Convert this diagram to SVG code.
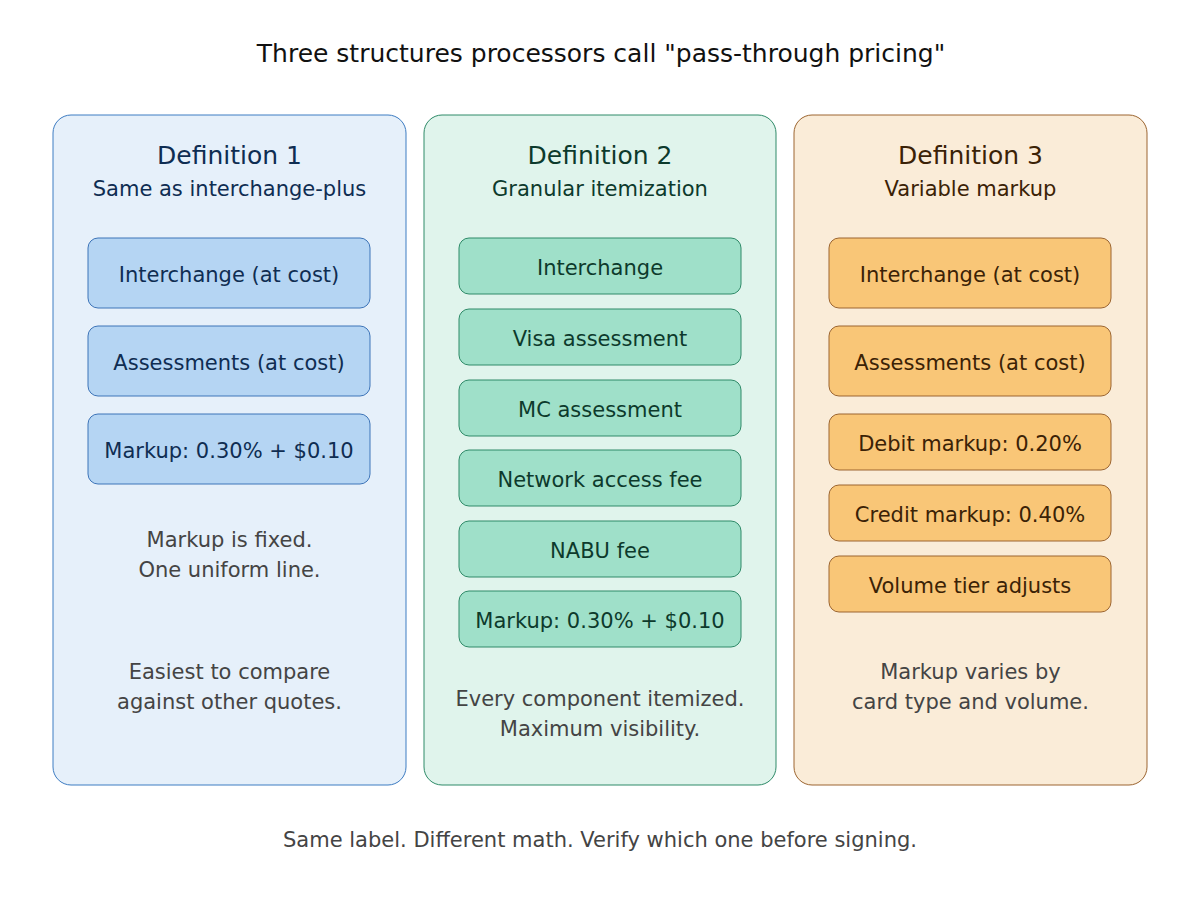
<svg xmlns="http://www.w3.org/2000/svg" width="1200" height="900" viewBox="0 0 1200 900">
<style>
text{font-family:"DejaVu Sans",sans-serif;text-anchor:middle}
.title{font-size:25px;fill:#111}
.h{font-size:25px}
.sub{font-size:21px}
.it{font-size:21px}
.note{font-size:21px;fill:#444}
.c1 .panel{fill:#e6f0fa;stroke:#3d7cc2;stroke-width:1}
.c1 .box{fill:#b5d5f3;stroke:#3d74b8;stroke-width:1}
.c1 text.d{fill:#0f2d52}
.c2 .panel{fill:#e0f4ec;stroke:#2e8a68;stroke-width:1}
.c2 .box{fill:#9fe0c9;stroke:#2e8a68;stroke-width:1}
.c2 text.d{fill:#0d3a2c}
.c3 .panel{fill:#faecd8;stroke:#9c6530;stroke-width:1}
.c3 .box{fill:#f9c677;stroke:#9c6530;stroke-width:1}
.c3 text.d{fill:#3b2206}
</style>
<rect width="1200" height="900" fill="#ffffff"/>
<text class="title" x="601" y="62">Three structures processors call "pass-through pricing"</text>

<g id="def1" class="c1">
<rect class="panel" x="53" y="115" width="353" height="670" rx="18"/>
<text class="h d" x="229.5" y="164">Definition 1</text>
<text class="sub d" x="229.5" y="196">Same as interchange-plus</text>
<g id="d1-interchange"><rect class="box" x="88" y="238" width="282" height="70" rx="10"/><text class="it d" x="229" y="282">Interchange (at cost)</text></g>
<g id="d1-assess"><rect class="box" x="88" y="326" width="282" height="70" rx="10"/><text class="it d" x="229" y="370">Assessments (at cost)</text></g>
<g id="d1-markup"><rect class="box" x="88" y="414" width="282" height="70" rx="10"/><text class="it d" x="229" y="458">Markup: 0.30% + $0.10</text></g>
<text class="note" x="229.5" y="547">Markup is fixed.</text>
<text class="note" x="229.5" y="577">One uniform line.</text>
<text class="note" x="229.5" y="679">Easiest to compare</text>
<text class="note" x="229.5" y="709">against other quotes.</text>
</g>

<g id="def2" class="c2">
<rect class="panel" x="424" y="115" width="352" height="670" rx="18"/>
<text class="h d" x="600" y="164">Definition 2</text>
<text class="sub d" x="600" y="196">Granular itemization</text>
<g id="d2-interchange"><rect class="box" x="459" y="238" width="282" height="56" rx="10"/><text class="it d" x="600" y="275">Interchange</text></g>
<g id="d2-visa"><rect class="box" x="459" y="309" width="282" height="56" rx="10"/><text class="it d" x="600" y="346">Visa assessment</text></g>
<g id="d2-mc"><rect class="box" x="459" y="380" width="282" height="56" rx="10"/><text class="it d" x="600" y="417">MC assessment</text></g>
<g id="d2-naf"><rect class="box" x="459" y="450" width="282" height="56" rx="10"/><text class="it d" x="600" y="487">Network access fee</text></g>
<g id="d2-nabu"><rect class="box" x="459" y="521" width="282" height="56" rx="10"/><text class="it d" x="600" y="558">NABU fee</text></g>
<g id="d2-markup"><rect class="box" x="459" y="591" width="282" height="56" rx="10"/><text class="it d" x="600" y="628">Markup: 0.30% + $0.10</text></g>
<text class="note" x="600" y="706">Every component itemized.</text>
<text class="note" x="600" y="736">Maximum visibility.</text>
</g>

<g id="def3" class="c3">
<rect class="panel" x="794" y="115" width="353" height="670" rx="18"/>
<text class="h d" x="970.5" y="164">Definition 3</text>
<text class="sub d" x="970.5" y="196">Variable markup</text>
<g id="d3-interchange"><rect class="box" x="829" y="238" width="282" height="70" rx="10"/><text class="it d" x="970" y="282">Interchange (at cost)</text></g>
<g id="d3-assess"><rect class="box" x="829" y="326" width="282" height="70" rx="10"/><text class="it d" x="970" y="370">Assessments (at cost)</text></g>
<g id="d3-debit"><rect class="box" x="829" y="414" width="282" height="56" rx="10"/><text class="it d" x="970" y="451">Debit markup: 0.20%</text></g>
<g id="d3-credit"><rect class="box" x="829" y="485" width="282" height="56" rx="10"/><text class="it d" x="970" y="522">Credit markup: 0.40%</text></g>
<g id="d3-volume"><rect class="box" x="829" y="556" width="282" height="56" rx="10"/><text class="it d" x="970" y="593">Volume tier adjusts</text></g>
<text class="note" x="970.5" y="679">Markup varies by</text>
<text class="note" x="970.5" y="709">card type and volume.</text>
</g>

<g id="connectors"></g>

<text class="note" x="600" y="847">Same label. Different math. Verify which one before signing.</text>
</svg>
